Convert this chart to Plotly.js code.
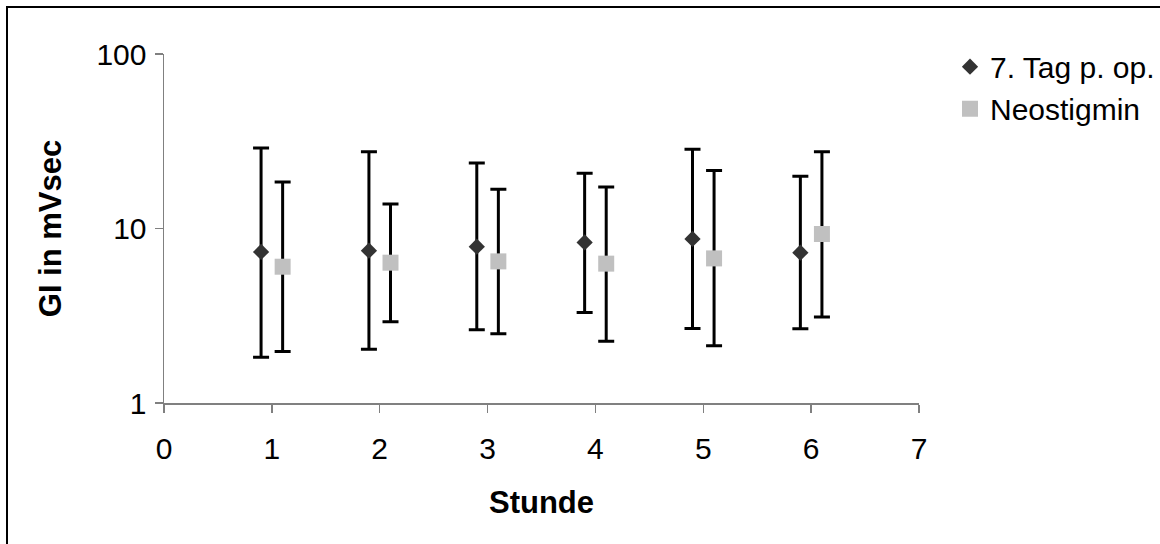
<!DOCTYPE html>
<html>
<head>
<meta charset="utf-8">
<script src="https://cdn.plot.ly/plotly-3.0.1.min.js"></script>
<style>
  html, body { margin: 0; padding: 0; background: #fff; overflow: hidden; }
  #wrap { position: relative; width: 1160px; height: 544px; overflow: hidden; }
  #chart { position: absolute; left: 0; top: 0; width: 1200px; height: 544px; }
  #frame { position: absolute; left: 6px; top: 6px; width: 2000px; height: 2000px;
           border: 2px solid #000; box-sizing: border-box; pointer-events: none; }
</style>
</head>
<body>
<div id="wrap">
  <div id="chart"></div>
  <div id="frame"></div>
</div>
<script>
// Data
const hours = [1, 2, 3, 4, 5, 6];
const seriesNames = ["7. Tag p. op.", "Neostigmin"];

const tag7Mean  = [7.34, 7.46, 7.87, 8.32, 8.71, 7.27];
const tag7Upper = [28.9, 27.5, 23.7, 20.7, 28.5, 19.9];
const tag7Lower = [1.83, 2.03, 2.63, 3.30, 2.67, 2.66];

const neoMean   = [6.04, 6.37, 6.48, 6.29, 6.74, 9.30];
const neoUpper  = [18.5, 13.8, 16.8, 17.3, 21.5, 27.5];
const neoLower  = [1.97, 2.92, 2.49, 2.26, 2.13, 3.11];

const yTickVals = [1, 10, 100];
const yTickText = ["1", "10", "100"];
const xTickVals = [0, 1, 2, 3, 4, 5, 6, 7];

const FONT = "Liberation Sans, Arial, sans-serif";

function errBar(mean, upper, lower) {
  return {
    type: "data", symmetric: false,
    array: upper.map((u, i) => u - mean[i]),
    arrayminus: lower.map((l, i) => mean[i] - l),
    color: "#000000", thickness: 3, width: 8
  };
}

const traces = [
  {
    type: "scatter", mode: "markers", name: seriesNames[0],
    x: hours.map(h => h - 0.1), y: tag7Mean,
    marker: { symbol: "diamond", size: 12.5, color: "#333333" },
    error_y: errBar(tag7Mean, tag7Upper, tag7Lower)
  },
  {
    type: "scatter", mode: "markers", name: seriesNames[1],
    x: hours.map(h => h + 0.1), y: neoMean,
    marker: { symbol: "square", size: 16, color: "#C0C0C0" },
    error_y: errBar(neoMean, neoUpper, neoLower)
  }
];

const layout = {
  width: 1200, height: 544,
  margin: { l: 164, r: 281, t: 54, b: 140.5, pad: 0 },
  paper_bgcolor: "#ffffff", plot_bgcolor: "#ffffff",
  font: { family: FONT, size: 30, color: "#000" },
  showlegend: true,
  legend: {
    x: (950 - 164) / 755, xanchor: "left", y: 1.038, yanchor: "top",
    font: { family: FONT, size: 30, color: "#000" },
    bgcolor: "rgba(0,0,0,0)", borderwidth: 0, tracegroupgap: 0
  },
  xaxis: {
    range: [0, 7], tickmode: "array", tickvals: xTickVals,
    showgrid: false, zeroline: false,
    showline: true, linecolor: "#808080", linewidth: 1.5,
    ticks: "outside", ticklen: 8, tickwidth: 1.5, tickcolor: "#808080",
    ticklabelstandoff: 10,
    tickfont: { family: FONT, size: 30, color: "#000" },
    title: { text: "Stunde", standoff: 28, font: { family: FONT, size: 31, color: "#000", weight: "bold" } }
  },
  yaxis: {
    type: "log", range: [0, 2], tickmode: "array",
    tickvals: yTickVals, ticktext: yTickText,
    showgrid: false, zeroline: false,
    showline: true, linecolor: "#808080", linewidth: 1.5,
    ticks: "outside", ticklen: 8, tickwidth: 1.5, tickcolor: "#808080",
    ticklabelstandoff: 2,
    tickfont: { family: FONT, size: 30, color: "#000" },
    title: { text: "GI in mVsec", standoff: 25, font: { family: FONT, size: 31, color: "#000", weight: "bold" } }
  }
};

Plotly.newPlot("chart", traces, layout, { staticPlot: true, displayModeBar: false });
</script>
</body>
</html>
